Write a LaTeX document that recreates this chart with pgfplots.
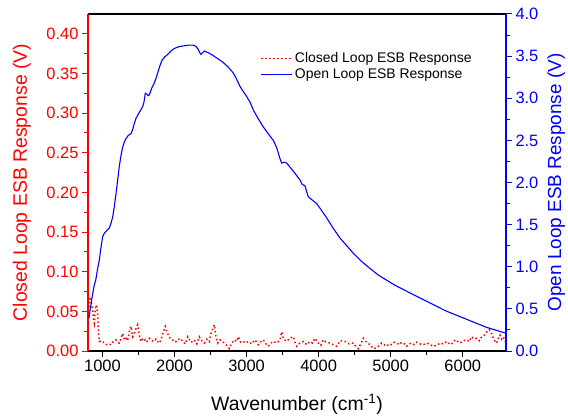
\documentclass[border=0pt]{standalone}
\usepackage{fontspec}
\setmainfont{Liberation Sans}
\usepackage{pgfplots}
\pgfplotsset{compat=1.18}
\usepackage{pgfplotstable}
\pgfplotstableread{
x y
805 0.045
818 0.060
830 0.068
841 0.066
852 0.058
864 0.052
876 0.040
888 0.035
900 0.050
911 0.058
922 0.056
934 0.045
942 0.030
948 0.022
957 0.012
980 0.013
1003 0.012
1025 0.010
1050 0.008
1085 0.009
1119 0.008
1150 0.012
1188 0.014
1210 0.011
1235 0.010
1258 0.016
1281 0.022
1305 0.014
1327 0.016
1350 0.013
1373 0.024
1396 0.031
1420 0.018
1443 0.022
1466 0.028
1489 0.033
1512 0.020
1535 0.012
1558 0.015
1581 0.016
1605 0.011
1628 0.013
1651 0.016
1685 0.013
1720 0.012
1743 0.015
1766 0.012
1790 0.010
1813 0.014
1843 0.024
1873 0.031
1890 0.026
1905 0.022
1940 0.016
1975 0.014
2010 0.011
2044 0.014
2080 0.016
2113 0.012
2150 0.009
2183 0.018
2230 0.011
2275 0.014
2310 0.009
2344 0.018
2380 0.013
2414 0.010
2450 0.015
2483 0.012
2506 0.022
2530 0.028
2553 0.033
2575 0.018
2599 0.010
2630 0.014
2668 0.012
2690 0.010
2715 0.008
2740 0.005
2761 0.003
2795 0.010
2830 0.014
2860 0.012
2886 0.018
2920 0.011
2955 0.012
2990 0.010
3024 0.012
3070 0.009
3117 0.014
3140 0.011
3163 0.008
3200 0.012
3233 0.014
3270 0.009
3302 0.006
3340 0.010
3371 0.012
3420 0.010
3464 0.014
3487 0.024
3510 0.016
3555 0.012
3603 0.016
3649 0.018
3672 0.011
3695 0.006
3740 0.010
3788 0.012
3835 0.008
3880 0.012
3915 0.010
3949 0.016
3996 0.010
4030 0.007
4065 0.014
4110 0.011
4158 0.010
4200 0.008
4250 0.006
4300 0.013
4366 0.012
4420 0.009
4481 0.010
4515 0.006
4551 0.003
4590 0.010
4620 0.016
4665 0.011
4713 0.008
4759 0.003
4805 0.004
4840 0.007
4875 0.010
4910 0.008
4944 0.006
4980 0.009
5014 0.008
5050 0.011
5083 0.010
5120 0.008
5152 0.011
5190 0.009
5222 0.006
5255 0.009
5291 0.010
5325 0.008
5360 0.011
5405 0.009
5453 0.008
5500 0.010
5546 0.008
5590 0.006
5638 0.007
5685 0.010
5730 0.009
5780 0.012
5823 0.008
5860 0.010
5892 0.014
5930 0.012
5962 0.010
6010 0.013
6054 0.014
6090 0.012
6124 0.018
6160 0.015
6193 0.016
6230 0.013
6262 0.018
6300 0.020
6332 0.024
6369 0.027
6400 0.022
6424 0.016
6450 0.012
6470 0.010
6495 0.016
6517 0.020
6540 0.015
6563 0.018
6590 0.012
}\closedtab
\pgfplotstableread{
x y
814 0.39
840 0.55
865 0.68
887 0.78
907 0.84
930 0.96
957 1.08
980 1.23
1004 1.36
1027 1.40
1050 1.42
1073 1.44
1096 1.46
1120 1.52
1143 1.59
1166 1.72
1189 1.87
1212 2.03
1234 2.19
1258 2.32
1281 2.42
1304 2.48
1327 2.52
1360 2.56
1397 2.58
1420 2.63
1442 2.70
1466 2.76
1490 2.80
1525 2.85
1559 2.90
1578 2.96
1595 3.06
1615 3.05
1635 3.03
1651 3.04
1685 3.12
1720 3.18
1745 3.24
1767 3.30
1800 3.39
1827 3.45
1865 3.49
1906 3.52
1950 3.56
1997 3.59
2055 3.61
2114 3.62
2190 3.63
2260 3.63
2290 3.62
2322 3.59
2345 3.55
2368 3.52
2390 3.54
2414 3.56
2470 3.54
2530 3.51
2600 3.47
2669 3.43
2745 3.37
2816 3.30
2860 3.23
2909 3.14
2955 3.08
3002 3.02
3050 2.95
3094 2.86
3160 2.76
3232 2.66
3300 2.58
3371 2.50
3410 2.43
3441 2.35
3465 2.28
3488 2.23
3520 2.24
3557 2.23
3615 2.17
3672 2.11
3705 2.07
3742 2.03
3770 1.98
3788 1.97
3811 1.96
3835 1.89
3857 1.83
3900 1.80
3973 1.75
4040 1.67
4112 1.58
4200 1.46
4297 1.34
4390 1.25
4481 1.16
4600 1.06
4713 0.98
4830 0.90
4945 0.84
5060 0.78
5175 0.73
5290 0.68
5407 0.63
5523 0.58
5639 0.53
5755 0.48
5869 0.44
5985 0.40
6101 0.36
6215 0.32
6332 0.28
6450 0.25
6563 0.22
6600 0.21
}\opentab
\pgfplotsset{
  every axis/.append style={
    scale only axis, width=418bp, height=337bp,
    xmin=800, xmax=6600,
    tick align=outside,
    major tick length=6bp, minor tick length=3.5bp,
    /pgf/number format/assume math mode=true,
    tick label style={font=\fontsize{16.5}{18}\selectfont},
    axis line style={line width=1.1bp},
  },
}
\begin{document}
\begin{tikzpicture}
\begin{axis}[
  axis y line*=left,
  xtick pos=bottom,
  ymin=0, ymax=0.425,
  xtick={1000,2000,3000,4000,5000,6000},
  minor x tick num=1,
  ytick={0,0.05,0.10,0.15,0.20,0.25,0.30,0.35,0.40},
  minor y tick num=1,
  x axis line style={black},
  y axis line style={red},
  xtick style={black, line width=1bp},
  ytick style={red, line width=1bp},
  yticklabel style={red, /pgf/number format/fixed, /pgf/number format/fixed zerofill, /pgf/number format/precision=2},
  xticklabel style={/pgf/number format/set thousands separator={}},
  xlabel={Wavenumber (cm\textsuperscript{-1})},
  ylabel={Closed Loop ESB Response (V)},
  every axis y label/.style={at={(axis description cs:-0.158,0.5)}, anchor=center, rotate=90, red, font=\fontsize{19.5}{22}\selectfont},
  every axis x label/.style={at={(axis description cs:0.5,-0.158)}, anchor=center, font=\fontsize{19.5}{22}\selectfont},
]
\addplot[red, line width=1.5bp, dash pattern=on 1.5bp off 2.5bp] table[x=x,y=y] {\closedtab};
\end{axis}
\begin{axis}[
  axis y line*=right,
  axis x line=none,
  ymin=0, ymax=4,
  ytick={0,0.5,1.0,1.5,2.0,2.5,3.0,3.5,4.0},
  minor y tick num=1,
  y axis line style={blue},
  ytick style={blue, line width=1bp},
  yticklabel style={blue, /pgf/number format/fixed, /pgf/number format/fixed zerofill, /pgf/number format/precision=1},
  ylabel={Open Loop ESB Response (V)},
  every axis y label/.style={at={(axis description cs:1.12,0.5)}, anchor=center, rotate=90, blue, font=\fontsize{19}{22}\selectfont},
  legend style={at={(axis description cs:0.405,0.898)}, anchor=north west, draw=none, fill=none, font=\fontsize{14}{16}\selectfont, row sep=0.5bp},
  legend cell align=left,
  legend image code/.code={\draw[#1, line cap=butt] (0bp,0bp) -- (31bp,0bp);},
]
\addlegendimage{red, line width=1.5bp, dash pattern=on 1.5bp off 2.5bp}
\addlegendentry{Closed Loop ESB Response}
\addplot[blue, line width=1.1bp] table[x=x,y=y] {\opentab};
\addlegendentry{Open Loop ESB Response}
\end{axis}
\pgfresetboundingbox
\path[use as bounding box] (-88bp,-65bp) rectangle (480bp,351bp);
\end{tikzpicture}
\end{document}
